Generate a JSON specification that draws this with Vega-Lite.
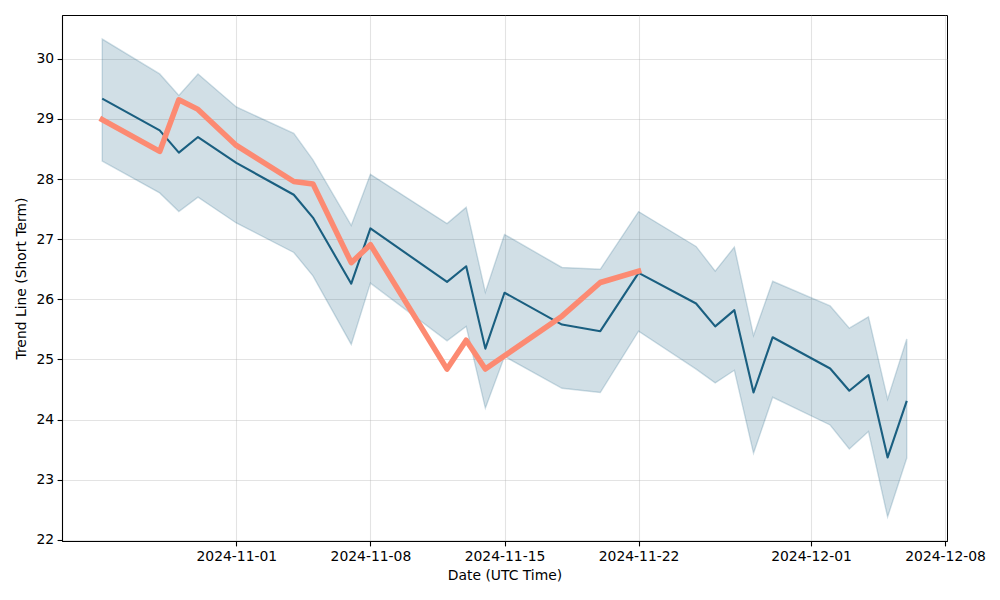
{
  "$schema": "https://vega.github.io/schema/vega-lite/v6.json",
  "width": 885,
  "height": 526,
  "autosize": {"type": "none"},
  "padding": {"left": 62, "top": 15, "right": 53, "bottom": 59},
  "background": "white",
  "config": {
    "view": {"stroke": "black", "strokeWidth": 1},
    "font": "DejaVu Sans",
    "axis": {
      "labelFont": "DejaVu Sans",
      "titleFont": "DejaVu Sans",
      "labelFontSize": 13.9,
      "titleFontSize": 13.9,
      "titleFontWeight": "normal",
      "labelColor": "black",
      "titleColor": "black",
      "domainColor": "black",
      "domainWidth": 1.1,
      "tickColor": "black",
      "tickWidth": 1.1,
      "tickSize": 4.9,
      "labelPadding": 3.5,
      "gridColor": "#b0b0b0",
      "gridOpacity": 0.35,
      "gridWidth": 1.1
    }
  },
  "data": {
    "values": [
      {"date": "2024-10-25T00:00:00Z", "trend": 29.34, "lower": 28.30, "upper": 30.33, "smooth": 28.99},
      {"date": "2024-10-28T00:00:00Z", "trend": 28.81, "lower": 27.77, "upper": 29.75, "smooth": 28.46},
      {"date": "2024-10-29T00:00:00Z", "trend": 28.44, "lower": 27.46, "upper": 29.39, "smooth": 29.32},
      {"date": "2024-10-30T00:00:00Z", "trend": 28.70, "lower": 27.70, "upper": 29.75, "smooth": 29.16},
      {"date": "2024-11-01T00:00:00Z", "trend": 28.27, "lower": 27.27, "upper": 29.20, "smooth": 28.56},
      {"date": "2024-11-04T00:00:00Z", "trend": 27.74, "lower": 26.78, "upper": 28.76, "smooth": 27.96},
      {"date": "2024-11-05T00:00:00Z", "trend": 27.36, "lower": 26.39, "upper": 28.32, "smooth": 27.92},
      {"date": "2024-11-07T00:00:00Z", "trend": 26.26, "lower": 25.25, "upper": 27.23, "smooth": 26.61},
      {"date": "2024-11-08T00:00:00Z", "trend": 27.18, "lower": 26.27, "upper": 28.08, "smooth": 26.91},
      {"date": "2024-11-12T00:00:00Z", "trend": 26.29, "lower": 25.31, "upper": 27.26, "smooth": 24.84},
      {"date": "2024-11-13T00:00:00Z", "trend": 26.55, "lower": 25.55, "upper": 27.53, "smooth": 25.32},
      {"date": "2024-11-14T00:00:00Z", "trend": 25.18, "lower": 24.19, "upper": 26.12, "smooth": 24.84},
      {"date": "2024-11-15T00:00:00Z", "trend": 26.11, "lower": 25.05, "upper": 27.08, "smooth": 25.06},
      {"date": "2024-11-18T00:00:00Z", "trend": 25.58, "lower": 24.52, "upper": 26.53, "smooth": 25.72},
      {"date": "2024-11-20T00:00:00Z", "trend": 25.47, "lower": 24.45, "upper": 26.50, "smooth": 26.28},
      {"date": "2024-11-22T00:00:00Z", "trend": 26.44, "lower": 25.47, "upper": 27.46, "smooth": 26.47},
      {"date": "2024-11-25T00:00:00Z", "trend": 25.93, "lower": 24.84, "upper": 26.88, "smooth": null},
      {"date": "2024-11-26T00:00:00Z", "trend": 25.55, "lower": 24.61, "upper": 26.47, "smooth": null},
      {"date": "2024-11-27T00:00:00Z", "trend": 25.82, "lower": 24.82, "upper": 26.87, "smooth": null},
      {"date": "2024-11-28T00:00:00Z", "trend": 24.45, "lower": 23.44, "upper": 25.40, "smooth": null},
      {"date": "2024-11-29T00:00:00Z", "trend": 25.37, "lower": 24.37, "upper": 26.30, "smooth": null},
      {"date": "2024-12-02T00:00:00Z", "trend": 24.85, "lower": 23.91, "upper": 25.89, "smooth": null},
      {"date": "2024-12-03T00:00:00Z", "trend": 24.48, "lower": 23.51, "upper": 25.52, "smooth": null},
      {"date": "2024-12-04T00:00:00Z", "trend": 24.74, "lower": 23.80, "upper": 25.71, "smooth": null},
      {"date": "2024-12-05T00:00:00Z", "trend": 23.37, "lower": 22.38, "upper": 24.34, "smooth": null},
      {"date": "2024-12-06T00:00:00Z", "trend": 24.31, "lower": 23.36, "upper": 25.34, "smooth": null}
    ]
  },
  "encoding": {
    "x": {
      "field": "date",
      "type": "temporal",
      "title": "Date (UTC Time)",
      "scale": {
        "type": "utc",
        "domain": [
          {"year": 2024, "month": 10, "date": 22, "hours": 21, "minutes": 36, "utc": true},
          {"year": 2024, "month": 12, "date": 8, "hours": 2, "minutes": 24, "utc": true}
        ]
      },
      "axis": {
        "values": [
          {"year": 2024, "month": 11, "date": 1, "utc": true},
          {"year": 2024, "month": 11, "date": 8, "utc": true},
          {"year": 2024, "month": 11, "date": 15, "utc": true},
          {"year": 2024, "month": 11, "date": 22, "utc": true},
          {"year": 2024, "month": 12, "date": 1, "utc": true},
          {"year": 2024, "month": 12, "date": 8, "utc": true}
        ],
        "labelExpr": "utcFormat(datum.value, '%Y-%m-%d')",
        "labelFlush": false,
        "labelOverlap": false,
        "titlePadding": 5
      }
    }
  },
  "layer": [
    {
      "mark": {
        "type": "area",
        "color": "#1a5f82",
        "fillOpacity": 0.2,
        "stroke": "#1a5f82",
        "strokeOpacity": 0.2,
        "strokeWidth": 1.4
      },
      "encoding": {
        "y": {
          "field": "lower",
          "type": "quantitative",
          "title": "Trend Line (Short Term)",
          "scale": {"domain": [21.98, 30.73], "nice": false, "zero": false},
          "axis": {"values": [22, 23, 24, 25, 26, 27, 28, 29, 30], "format": "d", "titlePadding": 7}
        },
        "y2": {"field": "upper"}
      }
    },
    {
      "mark": {"type": "line", "color": "#1a5f80", "strokeWidth": 2.1, "strokeJoin": "round"},
      "encoding": {
        "y": {"field": "trend", "type": "quantitative"}
      }
    },
    {
      "mark": {"type": "line", "color": "#fc8a72", "strokeWidth": 5.5, "strokeJoin": "round", "strokeCap": "square"},
      "encoding": {
        "y": {"field": "smooth", "type": "quantitative"}
      }
    }
  ]
}
